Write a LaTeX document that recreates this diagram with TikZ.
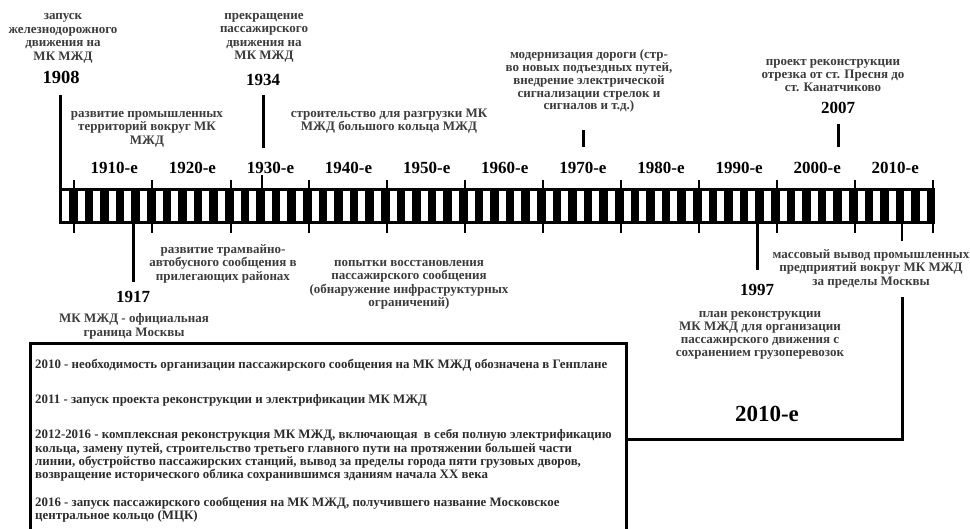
\documentclass[tikz,border=0pt]{standalone}
\usepackage{fontspec}
\setmainfont{Liberation Serif}
\definecolor{txtgray}{HTML}{3C3C3C}
\definecolor{boxgray}{HTML}{2C2C2C}
\begin{document}
\begin{tikzpicture}[x=1pt,y=-1pt,
  lab/.style={font={\fontsize{13}{13.5}\selectfont\bfseries}, text=txtgray, align=center, inner sep=0pt, anchor=north},
  yr/.style={font={\fontsize{17}{20}\selectfont\bfseries}, text=black, inner sep=0pt, anchor=base},
  dec/.style={font={\fontsize{17}{20}\selectfont\bfseries}, text=black, inner sep=0pt, anchor=base},
  big/.style={font={\fontsize{23}{26}\selectfont\bfseries}, text=black, inner sep=0pt, anchor=base},
  boxtxt/.style={font={\fontsize{12.9}{13}\selectfont\bfseries}, text=boxgray, align=left, inner sep=0pt, anchor=north west},
  thick3/.style={line width=3pt},
  tickln/.style={line width=2pt}
]
\useasboundingbox (0,0) rectangle (970,529);
\fill[white] (0,0) rectangle (970,529);

% ---- bar ----
\fill[black] (59,188) rectangle (935,224);
\foreach \k in {0,...,55}{
  \fill[white] ({65.4+15.6*\k-3.5},191) rectangle ({65.4+15.6*\k+3.5},221);
}
\foreach \i in {0,...,11}{
  \draw[tickln] ({74.3+78.1*\i},180) -- ({74.3+78.1*\i},188);
  \draw[tickln] ({74.3+78.1*\i},224) -- ({74.3+78.1*\i},233);
}
\coordinate (bar1908) at (60.5,188);
\coordinate (bar1917) at (133,224);
\coordinate (bar1997) at (757,224);
\coordinate (bar2016) at (902,224);
\coordinate (bar1930) at (262,188);

% ---- decade labels ----
\foreach \n [count=\i from 0] in {1910,1920,1930,1940,1950,1960,1970,1980,1990,2000,2010}{
  \node[dec] (d\n) at ({74.3+78.1*\i+40},174) {\n-е};
}

% ---- top events ----
\node[lab] (t1908) at (63,10) {\strut запуск\\железнодорожного\\движения на\\МК МЖД};
\node[yr, font={\fontsize{18.5}{20}\selectfont\bfseries}] (y1908) at (61,84) {1908};
\coordinate (s1908) at (60.5,95);
\draw[thick3] (s1908) -- (bar1908);

\node[lab] (tprom) at (147,107.5) {\strut развитие промышленных\\территорий вокруг МК\\МЖД};

\node[lab] (t1934) at (264,9.5) {\strut прекращение\\пассажирского\\движения на\\МК МЖД};
\node[yr] (y1934) at (263,86) {1934};
\coordinate (s1934) at (263,95);
\coordinate (e1934) at (263,148);
\draw[thick3] (s1934) -- (e1934);
\coordinate (s1930) at (262,175);
\draw[tickln] (s1930) -- (bar1930);

\node[lab] (tstroi) at (389,107.5) {\strut строительство для разгрузки МК\\МЖД большого кольца МЖД};

\node[lab, font={\fontsize{13}{12.6}\selectfont\bfseries}] (tmod) at (589,49) {\strut модернизация дороги (стр-\\во новых подъездных путей,\\внедрение электрической\\сигнализации стрелок и\\сигналов и т.д.)};
\coordinate (s1970) at (583,130);
\coordinate (e1970) at (583,147);
\draw[thick3] (s1970) -- (e1970);

\node[lab, font={\fontsize{13}{13}\selectfont\bfseries}] (t2007) at (833,56) {\strut проект реконструкции\\отрезка от ст. Пресня до\\ст. Канатчиково};
\node[yr] (y2007) at (838,114) {2007};
\coordinate (s2007) at (838,124);
\coordinate (e2007) at (838,147);
\draw[thick3] (s2007) -- (e2007);

% ---- bottom events ----
\coordinate (e1917) at (133,282);
\draw[thick3] (bar1917) -- (e1917);
\node[yr] (y1917) at (133,303) {1917};
\node[lab] (t1917) at (134,313) {\strut МК МЖД - официальная\\граница Москвы};

\node[lab] (ttram) at (223,243.5) {\strut развитие трамвайно-\\автобусного сообщения в\\прилегающих районах};

\node[lab] (tpop) at (409,256.5) {\strut попытки восстановления\\пассажирского сообщения\\(обнаружение инфраструктурных\\ограничений)};

\coordinate (e1997) at (757,270);
\draw[thick3] (bar1997) -- (e1997);
\node[yr] (y1997) at (757,296) {1997};
\node[lab, font={\fontsize{13}{13.3}\selectfont\bfseries}] (t1997) at (760,307.5) {\strut план реконструкции\\МК МЖД для организации\\пассажирского движения с\\сохранением грузоперевозок};

\coordinate (e2016) at (902,241);
\draw[line width=2.5pt] (bar2016) -- (e2016);
\node[lab] (tmass) at (871,248.5) {\strut массовый вывод промышленных\\предприятий вокруг МК МЖД\\за пределы Москвы};

% ---- 2010s boxes ----
\coordinate (bl) at (30,531);
\coordinate (tl) at (30,344);
\coordinate (tr) at (626,344);
\coordinate (br) at (626,531);
\draw[thick3] (bl) -- (tl) -- (tr) -- (br);
\coordinate (m1) at (626,440);
\coordinate (m2) at (902,440);
\coordinate (m3) at (902,297);
\draw[thick3] (m1) -- (m2) -- (m3);
\node[big] (b2010) at (767,421) {2010-е};

\node[boxtxt] (p1) at (35,358.9) {\strut 2010 - необходимость организации пассажирского сообщения на МК МЖД обозначена в Генплане};
\node[boxtxt] (p2) at (35,393.9) {\strut 2011 - запуск проекта реконструкции и электрификации МК МЖД};
\node[boxtxt] (p3) at (35,428.9) {\strut 2012-2016 - комплексная реконструкция МК МЖД, включающая \ в себя полную электрификацию\\кольца, замену путей, строительство третьего главного пути на протяжении большей части\\линии, обустройство пассажирских станций, вывод за пределы города пяти грузовых дворов,\\возвращение исторического облика сохранившимся зданиям начала XX века};
\node[boxtxt] (p4) at (35,496.9) {\strut 2016 - запуск пассажирского сообщения на МК МЖД, получившего название Московское\\центральное кольцо (МЦК)};
\end{tikzpicture}
\end{document}
